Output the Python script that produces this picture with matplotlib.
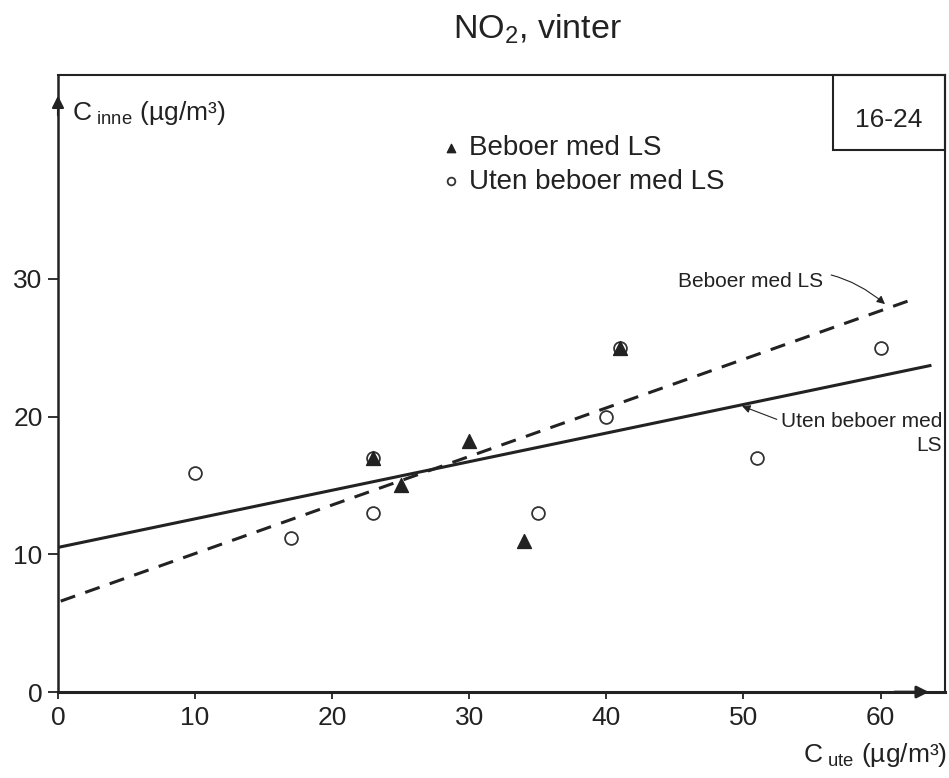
import numpy as np
import matplotlib.pyplot as plt
from matplotlib.patches import Rectangle

plt.rcParams['font.family'] = ['Liberation Sans', 'DejaVu Sans']
plt.rcParams['mathtext.fontset'] = 'custom'
plt.rcParams['mathtext.rm'] = 'Liberation Sans'
plt.rcParams['mathtext.it'] = 'Liberation Sans:italic'

# measured points
tri_x = [23, 25, 30, 34, 41]
tri_y = [17, 15, 18.2, 11, 25]
circ_x = [10, 17, 23, 23, 35, 40, 41, 51, 60]
circ_y = [15.9, 11.2, 13, 17, 13, 20, 25, 17, 25]

# regression lines (end points)
solid_x = [0, 63.6]
solid_y = [10.5, 23.7]
dash_x = [0.2, 62.6]
dash_y = [6.6, 28.6]

xticks = [0, 10, 20, 30, 40, 50, 60]
yticks = [0, 10, 20, 30]

ink = '#222222'

fig = plt.figure(figsize=(9.49, 7.78), dpi=100)
ax = fig.add_axes([0.0611, 0.1105, 0.9347, 0.7931])
ax.set_xlim(0, 64.7)
ax.set_ylim(0, 44.8)

ax.plot(solid_x, solid_y, color=ink, lw=2.2, zorder=2)
ax.plot(dash_x, dash_y, color=ink, lw=2.2, ls=(0, (5, 3.5)), zorder=2)

ax.scatter(circ_x, circ_y, s=85, marker='o', facecolor='white',
           edgecolor='#333333', linewidths=1.3, zorder=3, label='Uten beboer med LS')
ax.scatter(tri_x, tri_y, s=100, marker='^', color=ink, zorder=4, label='Beboer med LS')

ax.set_xticks(xticks)
ax.set_yticks(yticks)
ax.tick_params(axis='x', direction='out', length=5, width=1.3, labelsize=19,
               colors=ink, pad=5)
ax.tick_params(axis='y', direction='out', length=7, width=1.3, labelsize=19,
               colors=ink, pad=4)
for s in ax.spines.values():
    s.set_color(ink)
    s.set_linewidth(1.5)
ax.spines['bottom'].set_linewidth(2.2)
ax.spines['left'].set_linewidth(1.8)

# axis arrows
ax.annotate('', xy=(0.985, 0), xytext=(0.94, 0), xycoords='axes fraction',
            arrowprops=dict(arrowstyle='-|>', color=ink, lw=2, mutation_scale=18))
ax.annotate('', xy=(0, 0.971), xytext=(0, 0.93), xycoords='axes fraction',
            arrowprops=dict(arrowstyle='-|>', color=ink, lw=1.5, mutation_scale=18))

# axis labels
ax.text(0.016, 0.938, r'C$_{\mathrm{\ inne}}$ (µg/m³)', transform=ax.transAxes,
        fontsize=19, color=ink, va='center', ha='left')
fig.text(0.998, 0.030, r'C$_{\mathrm{\ ute}}$ (µg/m³)', fontsize=19, color=ink,
         ha='right', va='center')

fig.text(0.566, 0.962, 'NO$_2$, vinter', fontsize=24.5, color=ink, ha='center', va='center')

# "16-24" box
ax.add_patch(Rectangle((0.874, 0.878), 0.126, 0.122, transform=ax.transAxes,
                       fill=False, edgecolor=ink, lw=1.5, clip_on=False))
ax.text(0.936, 0.927, '16-24', transform=ax.transAxes, fontsize=19, color=ink,
        ha='center', va='center')

leg = ax.legend(handles=ax.collections[::-1], loc='upper left',
                bbox_to_anchor=(0.431, 0.903), frameon=False, fontsize=20,
                borderaxespad=0, borderpad=0, handlelength=0.75,
                handletextpad=0.3, labelspacing=0.28, markerscale=0.6,
                scatterpoints=1)
for t in leg.get_texts():
    t.set_color(ink)

# line labels with arrows
ax.annotate('Beboer med LS', xy=(60.4, 28.1), xytext=(55.8, 29.8),
            fontsize=15, color=ink, ha='right', va='center',
            arrowprops=dict(arrowstyle='-|>', color=ink, lw=0.8,
                            connectionstyle='arc3,rad=-0.3',
                            shrinkA=4, shrinkB=1, mutation_scale=12))
ax.annotate('Uten beboer med\nLS', xy=(49.8, 20.8), xytext=(64.5, 20.3),
            fontsize=15, color=ink, ha='right', va='top', linespacing=1.3,
            arrowprops=dict(arrowstyle='-|>', color=ink, lw=0.8,
                            relpos=(0, 0.8), shrinkA=1, shrinkB=1,
                            mutation_scale=12))

plt.savefig('out.png', dpi=100)
